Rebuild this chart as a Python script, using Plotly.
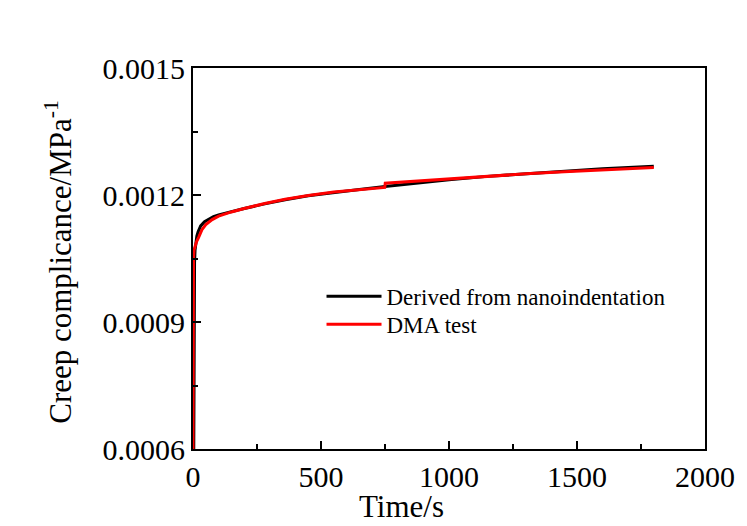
import plotly.graph_objects as go

# Derived from nanoindentation (black)
t_nano = [3, 4, 5, 6, 8, 11, 15, 20, 30, 45, 60, 80, 100, 150, 200, 280, 360, 450,
          550, 650, 750, 850, 1000, 1150, 1300, 1450, 1600, 1800]
j_nano = [0.00060, 0.00090, 0.00100, 0.00104, 0.00107, 0.00109, 0.001103, 0.001113,
          0.001127, 0.001137, 0.001143, 0.001149, 0.001153, 0.001161, 0.001168,
          0.001179, 0.001189, 0.001198, 0.001206, 0.001213, 0.001220, 0.001227,
          0.001236, 0.001244, 0.001250, 0.001256, 0.001262, 0.001268]

# DMA test (red)
t_dma = [0, 0.5, 1, 2, 4, 8, 14, 22, 35, 50, 75, 100, 150, 200, 280, 360, 450, 550,
         650, 749, 751, 850, 1000, 1150, 1300, 1450, 1600, 1800]
j_dma = [0.00060, 0.00095, 0.00102, 0.00105, 0.00107, 0.00108, 0.00109, 0.00110,
         0.001118, 0.001130, 0.001142, 0.001150, 0.001160, 0.001168, 0.001180,
         0.001190, 0.001199, 0.001207, 0.001213, 0.001218, 0.001228, 0.001232,
         0.001239, 0.001245, 0.001250, 0.001255, 0.001260, 0.001265]

x_ticks = [0, 500, 1000, 1500, 2000]
y_ticks = [0.0006, 0.0009, 0.0012, 0.0015]
y_labels = ["0.0006", "0.0009", "0.0012", "0.0015"]

FONT = "Liberation Serif, Times New Roman, serif"

fig = go.Figure()
fig.add_trace(go.Scatter(x=t_nano, y=j_nano, mode="lines",
                         name="Derived from nanoindentation", legend="legend",
                         line=dict(color="black", width=3)))
fig.add_trace(go.Scatter(x=t_dma, y=j_dma, mode="lines", name="DMA test",
                         legend="legend2",
                         line=dict(color="#ff0000", width=3)))

leg_common = dict(xanchor="left", yanchor="top", bgcolor="rgba(0,0,0,0)",
                  font=dict(size=23, family=FONT), itemwidth=55)

fig.update_layout(
    width=747, height=526,
    margin=dict(l=193, r=38, t=68, b=77),
    paper_bgcolor="white", plot_bgcolor="white",
    font=dict(family=FONT, color="black"),
    showlegend=True,
    legend=dict(x=0.251, y=0.457, **leg_common),
    legend2=dict(x=0.251, y=0.384, **leg_common),
    xaxis=dict(range=[0, 2000], tickvals=x_ticks, ticktext=[str(v) for v in x_ticks],
               ticks="inside", ticklen=8, tickwidth=2, tickcolor="black",
               showline=True, linewidth=2, linecolor="black", mirror=True,
               showgrid=False, zeroline=False,
               tickfont=dict(size=30, family=FONT),
               minor=dict(dtick=250, tick0=0, ticks="inside", ticklen=5,
                          tickwidth=2, tickcolor="black", showgrid=False)),
    yaxis=dict(range=[0.0006, 0.0015], tickvals=y_ticks, ticktext=y_labels,
               ticks="inside", ticklen=8, tickwidth=2, tickcolor="black",
               showline=True, linewidth=2, linecolor="black", mirror=True,
               showgrid=False, zeroline=False,
               tickfont=dict(size=30, family=FONT),
               minor=dict(dtick=0.00015, tick0=0.0006, ticks="inside", ticklen=5,
                          tickwidth=2, tickcolor="black", showgrid=False)),
    annotations=[
        dict(text="Time/s", xref="paper", yref="paper", x=0.407, y=-0.15,
             xanchor="center", yanchor="middle", showarrow=False,
             font=dict(size=31, family=FONT)),
        dict(text="Creep complicance/MPa<sup>-1</sup>", xref="paper", yref="paper",
             x=-0.262, y=0.491, xanchor="center", yanchor="middle", textangle=-90,
             showarrow=False, font=dict(size=31, family=FONT)),
    ],
)

fig.write_html("out.html")
